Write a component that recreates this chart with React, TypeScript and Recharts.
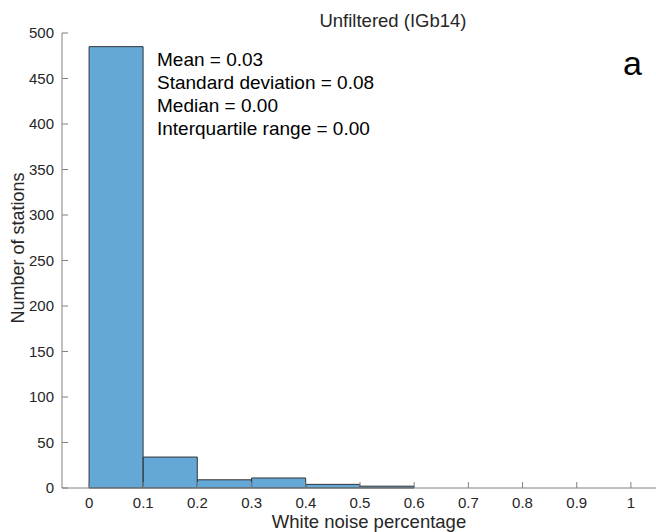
import { ComposedChart, Bar, XAxis, YAxis } from "recharts";

// histogram of white noise share per station, bin width 0.1
const binStarts = [0, 0.1, 0.2, 0.3, 0.4, 0.5];
const stationCounts = [485, 34, 9, 11, 4, 2];
const binWidth = 0.1;

const xTicks = [0, 0.1, 0.2, 0.3, 0.4, 0.5, 0.6, 0.7, 0.8, 0.9, 1];
const yTicks = [0, 50, 100, 150, 200, 250, 300, 350, 400, 450, 500];

const statLines = [
  "Mean = 0.03",
  "Standard deviation = 0.08",
  "Median = 0.00",
  "Interquartile range = 0.00",
];

const data = binStarts.map((start, i) => ({
  center: start + binWidth / 2,
  count: stationCounts[i],
}));

const FONT = '"Liberation Sans", Arial, Helvetica, sans-serif';
const AXIS_COLOR = "#808080";
const TEXT_COLOR = "#262626";

const xDomain = [-0.05, 1.05];
const CHART_W = 680;
const MARGIN = { top: 33, right: 22, left: 12, bottom: 0 };
const Y_AXIS_W = 50;

const tickStyle = { fill: TEXT_COLOR, fontSize: 15, fontFamily: FONT };

export default function App() {
  return (
    <div
      style={{
        position: "absolute",
        left: 0,
        top: 0,
        width: 656,
        height: 532,
        overflow: "hidden",
        background: "#fff",
      }}
    >
      {/* bins touch each other: no category gap, band = one bin */}
      <ComposedChart
        width={CHART_W}
        height={532}
        data={data}
        margin={MARGIN}
        barCategoryGap={0}
        barGap={0}
      >
        <XAxis
          dataKey="center"
          type="number"
          domain={xDomain}
          allowDataOverflow
          ticks={xTicks}
          interval={0}
          height={44}
          tickSize={-6}
          tickMargin={15}
          stroke={AXIS_COLOR}
          tick={tickStyle}
        />
        <XAxis
          xAxisId="top"
          orientation="top"
          dataKey="center"
          type="number"
          domain={xDomain}
          allowDataOverflow
          ticks={xTicks}
          interval={0}
          height={0}
          tickSize={-6}
          tickFormatter={() => ""}
          stroke={AXIS_COLOR}
        />
        <YAxis
          type="number"
          domain={[0, 500]}
          ticks={yTicks}
          interval={0}
          width={Y_AXIS_W}
          tickSize={-6}
          tickMargin={14}
          stroke={AXIS_COLOR}
          tick={tickStyle}
        />
        <YAxis
          yAxisId="right"
          orientation="right"
          type="number"
          domain={[0, 500]}
          ticks={yTicks}
          interval={0}
          width={0}
          tickSize={-6}
          tickFormatter={() => ""}
          stroke={AXIS_COLOR}
        />
        <Bar
          dataKey="count"
          fill="#64a8d8"
          stroke="#333333"
          strokeWidth={1}
          isAnimationActive={false}
        />

        <text
          x={393}
          y={27}
          textAnchor="middle"
          fontSize={18.5}
          fontFamily={FONT}
          fill={TEXT_COLOR}
        >
          Unfiltered (IGb14)
        </text>
        <text
          x={369}
          y={528}
          textAnchor="middle"
          fontSize={18.5}
          fontFamily={FONT}
          fill={TEXT_COLOR}
        >
          White noise percentage
        </text>
        <text
          x={0}
          y={0}
          transform="translate(24 248) rotate(-90)"
          textAnchor="middle"
          fontSize={18}
          fontFamily={FONT}
          fill={TEXT_COLOR}
        >
          Number of stations
        </text>
        {statLines.map((line, i) => (
          <text
            key={line}
            x={157}
            y={66 + i * 23}
            fontSize={19}
            fontFamily={FONT}
            fill="#000"
          >
            {line}
          </text>
        ))}
        <text x={623} y={75} fontSize={34} fontFamily={FONT} fill="#000">
          a
        </text>
      </ComposedChart>
    </div>
  );
}
